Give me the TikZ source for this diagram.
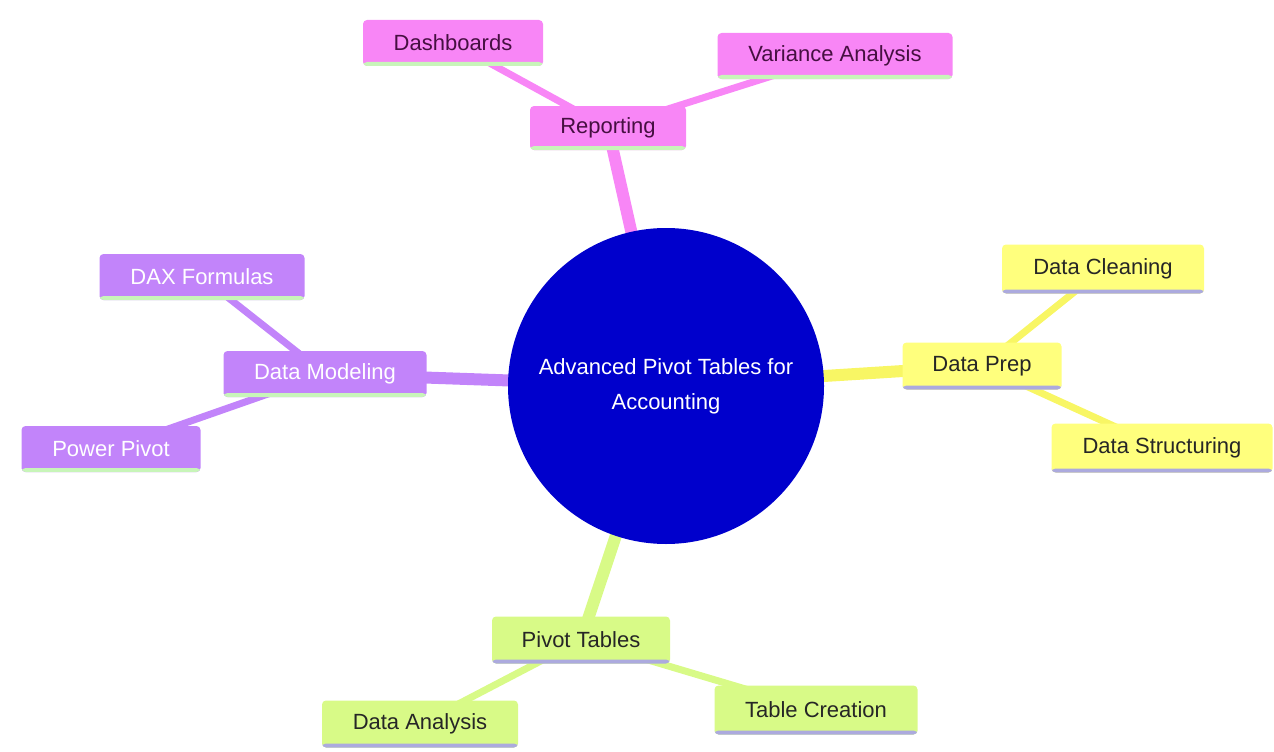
\documentclass[tikz,border=0pt]{standalone}
\usepackage{fontspec}
\setmainfont{Liberation Sans}
\usepackage{xcolor}
\usetikzlibrary{positioning,backgrounds}

\definecolor{hubBlue}{RGB}{0,0,204}
\definecolor{pinkFill}{RGB}{248,134,246}
\definecolor{pinkText}{RGB}{70,15,65}
\definecolor{yellowFill}{RGB}{255,255,125}
\definecolor{yellowEdge}{RGB}{248,246,100}
\definecolor{purpleFill}{RGB}{194,132,250}
\definecolor{limeFill}{RGB}{216,250,135}
\definecolor{greenLine}{RGB}{200,245,185}
\definecolor{lavenderLine}{RGB}{172,170,222}

\begin{document}
\begin{tikzpicture}[x=1pt,y=-1pt,font=\fontsize{22}{26}\selectfont]
    \tikzstyle{box}=[rectangle,rounded corners=4pt,minimum height=46pt,inner sep=0pt]
    \tikzstyle{greenbottom}=[path picture={\fill[greenLine] ([yshift=4pt]path picture bounding box.south west) rectangle (path picture bounding box.south east);}]
    \tikzstyle{lavenderbottom}=[path picture={\fill[lavenderLine] ([yshift=4pt]path picture bounding box.south west) rectangle (path picture bounding box.south east);}]
    \tikzstyle{pinkbox}=[box,greenbottom,fill=pinkFill,text=pinkText]
    \tikzstyle{yellowbox}=[box,lavenderbottom,fill=yellowFill,text=black!85]
    \tikzstyle{purplebox}=[box,greenbottom,fill=purpleFill,text=white]
    \tikzstyle{limebox}=[box,lavenderbottom,fill=limeFill,text=black!85]
    \tikzstyle{trunk}=[line width=12pt]
    \tikzstyle{twig}=[line width=7pt]

    \useasboundingbox (0,0) rectangle (1274,752);

    \node[circle,fill=hubBlue,minimum size=316pt,text=white,align=center,
          font=\fontsize{22}{35}\selectfont] (hub) at (666,386)
          {Advanced Pivot Tables for\\Accounting};

    \node[pinkbox,minimum width=156pt,minimum height=44pt] (reporting) at (608,128) {Reporting};
    \node[pinkbox,minimum width=180pt] (dashboards) at (453,43) {Dashboards};
    \node[pinkbox,minimum width=235pt] (variance) at (835,56) {Variance Analysis};

    \node[yellowbox,minimum width=159pt,minimum height=47pt] (dataprep) at (982,366) {Data Prep};
    \node[yellowbox,minimum width=202pt,minimum height=49pt] (cleaning) at (1103,269) {Data Cleaning};
    \node[yellowbox,minimum width=221pt,minimum height=49pt] (structuring) at (1162,448) {Data Structuring};

    \node[purplebox,minimum width=203pt] (modeling) at (325,374) {Data Modeling};
    \node[purplebox,minimum width=205pt] (dax) at (202,277) {DAX Formulas};
    \node[purplebox,minimum width=179pt] (powerpivot) at (111,449) {Power Pivot};

    \node[limebox,minimum width=178pt,minimum height=47pt] (pivottables) at (581,640) {Pivot Tables};
    \node[limebox,minimum width=196pt,minimum height=47pt] (analysis) at (420,724) {Data Analysis};
    \node[limebox,minimum width=203pt,minimum height=49pt] (creation) at (816,710) {Table Creation};

    % branches sit behind the boxes
    \begin{scope}[on background layer]
    \draw[trunk,pinkFill] (hub.center) -- (reporting.center);
    \draw[trunk,yellowEdge] (hub.center) -- (dataprep.center);
    \draw[trunk,purpleFill] (hub.center) -- (modeling.center);
    \draw[trunk,limeFill] (hub.center) -- (pivottables.center);

    \draw[twig,pinkFill] (reporting.center) -- (dashboards.center);
    \draw[twig,pinkFill] (reporting.center) -- (variance.center);
    \draw[twig,yellowEdge] (dataprep.center) -- (cleaning.center);
    \draw[twig,yellowEdge] (dataprep.center) -- (structuring.center);
    \draw[twig,purpleFill] (modeling.center) -- (dax.center);
    \draw[twig,purpleFill] (modeling.center) -- (powerpivot.center);
    \draw[twig,limeFill] (pivottables.center) -- (analysis.center);
    \draw[twig,limeFill] (pivottables.center) -- (creation.center);
    \end{scope}
\end{tikzpicture}
\end{document}
